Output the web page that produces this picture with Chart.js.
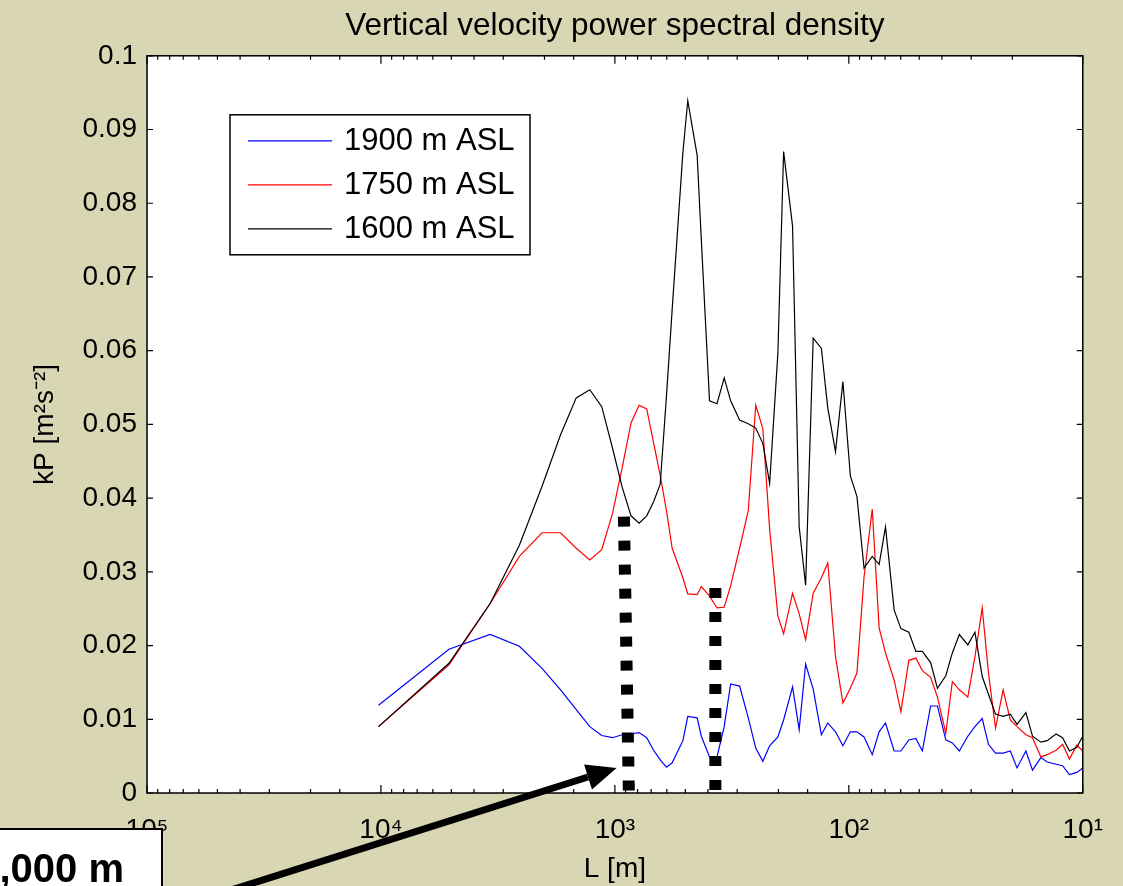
<!DOCTYPE html>
<html><head><meta charset="utf-8">
<script src="https://cdn.jsdelivr.net/npm/chart.js@4.4.1/dist/chart.umd.min.js"></script>
<style>html,body{margin:0;padding:0;background:#d9d6b4;overflow:hidden}canvas{display:block}</style>
</head><body>
<canvas id="c" width="1123" height="886"></canvas>
<script>
// Wavelength L [m] of each spectral estimate (shared by all three series)
const wavelengthM = [10240,5120,3413,2560,2048,1707,1463,1280,1138,1024,
  931,853,788,731,683,640,602,569,512,488,
  445,427,394,366,341,320,293,269,250,233,
  218,201,190,174,163,153,142,131,123,114,
  106,98.5,92.3,86.1,79.4,74.2,69.7,64,59.9,55.4,
  51.7,48.5,44.7,41.8,38.5,36.1,33.7,31.0,28.9,26.9,
  25.3,23.6,21.9,20.4,19.1,17.5,16.4,15.1,14.2,13.0,
  12.2,11.4,10.6,10];

// kP [m^2 s^-2]
const psd1900 = [0.0119,0.0195,0.0215,0.0199,0.0169,0.0140,0.0113,0.0090,0.0078,0.0075,
  0.0079,0.0080,0.0082,0.0075,0.0058,0.0045,0.0035,0.0041,0.0071,0.0104,
  0.0102,0.0077,0.0049,0.0049,0.0090,0.0148,0.0145,0.0102,0.0061,0.0043,
  0.0064,0.0076,0.0099,0.0144,0.0086,0.0175,0.0141,0.0079,0.0095,0.0083,
  0.0064,0.0083,0.0083,0.0076,0.0052,0.0083,0.0095,0.0057,0.0057,0.0072,
  0.0074,0.0057,0.0118,0.0118,0.0072,0.0068,0.0057,0.0077,0.0090,0.0101,
  0.0066,0.0054,0.0054,0.0057,0.0034,0.0057,0.0031,0.0048,0.0042,0.0039,
  0.0037,0.0025,0.0028,0.0034];

const psd1750 = [0.0090,0.0174,0.0257,0.0321,0.0353,0.0353,0.0332,0.0316,0.0330,0.0379,
  0.0441,0.0502,0.0526,0.0521,0.0475,0.0431,0.0383,0.0332,0.0292,0.0270,
  0.0269,0.0280,0.0267,0.0251,0.0252,0.0281,0.0332,0.0383,0.0526,0.0494,
  0.0358,0.0240,0.0216,0.0271,0.0243,0.0208,0.0271,0.0292,0.0312,0.0185,
  0.0122,0.0142,0.0163,0.0293,0.0385,0.0224,0.0190,0.0153,0.0110,0.0180,
  0.0183,0.0166,0.0157,0.0130,0.0081,0.0151,0.0140,0.0130,0.0185,0.0251,
  0.0163,0.0088,0.0140,0.0099,0.0090,0.0079,0.0075,0.0049,0.0052,0.0058,
  0.0066,0.0046,0.0065,0.0057];

const psd1600 = [0.0090,0.0176,0.0257,0.0336,0.0416,0.0486,0.0536,0.0547,0.0524,0.0468,
  0.0415,0.0376,0.0366,0.0376,0.0395,0.0419,0.0538,0.0656,0.0869,0.0939,
  0.0865,0.0750,0.0532,0.0528,0.0563,0.0532,0.0506,0.0501,0.0495,0.0474,
  0.0420,0.0597,0.0870,0.0769,0.0361,0.0282,0.0617,0.0603,0.0522,0.0463,
  0.0558,0.0430,0.0402,0.0305,0.0321,0.0310,0.0361,0.0248,0.0223,0.0218,
  0.0192,0.0192,0.0177,0.0142,0.0159,0.0190,0.0215,0.0201,0.0218,0.0158,
  0.0134,0.0107,0.0104,0.0107,0.0093,0.0109,0.0077,0.0069,0.0071,0.0080,
  0.0075,0.0057,0.0062,0.0077];

const seriesLabels = ['1900 m ASL', '1750 m ASL', '1600 m ASL'];
const xTickLabels = {100000: '10\u2075', 10000: '10\u2074', 1000: '10\u00B3', 100: '10\u00B2', 10: '10\u00B9'};
const yTickStep = 0.01;
const titleText = 'Vertical velocity power spectral density';
const xTitle = 'L [m]';
const yTitle = 'kP [m\u00B2s\u207B\u00B2]';
const annotationText = '1,000 m';
// dotted marker lines: [L, kP] of top and bottom ends
const markerLines = [
  {top: [915, 0.0375], bottom: [871, 0]},
  {top: [372, 0.0278], bottom: [372, 0]}
];
// arrow tail / tip in data units
const arrowTail = [59360, -0.0145];
const arrowTip = [983, 0.0034];

const FONT = "'Liberation Sans', Arial, Helvetica, sans-serif";
const BG = '#d9d6b4';
const colors = ['#0000ff', '#ff0000', '#000000'];

function mk(vals) { return wavelengthM.map((x, i) => ({x: x, y: vals[i]})); }

const deco = {
  id: 'deco',
  beforeDraw(chart) {
    const {ctx, chartArea: a} = chart;
    ctx.save();
    ctx.fillStyle = BG; ctx.fillRect(0, 0, chart.width, chart.height);
    ctx.fillStyle = '#ffffff'; ctx.fillRect(a.left, a.top, a.right - a.left, a.bottom - a.top);
    ctx.restore();
  },
  afterDatasetsDraw(chart) {
    const {ctx, chartArea: a, scales} = chart;
    const xs = scales.x, ys = scales.y;
    ctx.save();
    // frame
    ctx.strokeStyle = '#000'; ctx.lineWidth = 1.5;
    ctx.strokeRect(a.left, a.top, a.right - a.left, a.bottom - a.top);
    // ticks (inside)
    ctx.lineWidth = 1.2;
    ctx.beginPath();
    xs.ticks.forEach(t => {
      const p = xs.getPixelForValue(t.value);
      const e = Math.log10(t.value);
      const len = Math.abs(e - Math.round(e)) < 1e-6 ? 8 : 4;
      ctx.moveTo(p, a.bottom); ctx.lineTo(p, a.bottom - len);
      ctx.moveTo(p, a.top); ctx.lineTo(p, a.top + len);
    });
    ys.ticks.forEach(t => {
      const p = ys.getPixelForValue(t.value);
      ctx.moveTo(a.left, p); ctx.lineTo(a.left + 6, p);
      ctx.moveTo(a.right, p); ctx.lineTo(a.right - 6, p);
    });
    ctx.stroke();
    // dotted marker lines
    ctx.setLineDash([10, 14]);
    ctx.lineWidth = 12; ctx.lineCap = 'butt';
    markerLines.forEach(m => {
      ctx.beginPath();
      ctx.moveTo(xs.getPixelForValue(m.top[0]), ys.getPixelForValue(m.top[1]));
      ctx.lineTo(xs.getPixelForValue(m.bottom[0]), ys.getPixelForValue(m.bottom[1]) + 2);
      ctx.stroke();
    });
    ctx.setLineDash([]);
    // legend box
    const lx = a.left + 83, ly = a.top + 59, lw = 300, lh = 140;
    ctx.fillStyle = '#fff'; ctx.fillRect(lx, ly, lw, lh);
    ctx.lineWidth = 1.5; ctx.strokeStyle = '#000'; ctx.strokeRect(lx, ly, lw, lh);
    ctx.font = '31px ' + FONT; ctx.textBaseline = 'middle'; ctx.textAlign = 'left';
    chart.data.datasets.forEach((ds, i) => {
      const yy = ly + 26 + i * 44;
      ctx.strokeStyle = ds.borderColor; ctx.lineWidth = 1.3;
      ctx.beginPath(); ctx.moveTo(lx + 18, yy); ctx.lineTo(lx + 102, yy); ctx.stroke();
      ctx.fillStyle = '#000'; ctx.fillText(ds.label, lx + 114, yy + 1);
    });
    ctx.restore();
  },
  afterDraw(chart) {
    const {ctx, scales} = chart;
    const xs = scales.x, ys = scales.y;
    ctx.save();
    // annotation box
    ctx.fillStyle = '#fff'; ctx.fillRect(-10, 829, 172, 80);
    ctx.strokeStyle = '#000'; ctx.lineWidth = 2; ctx.strokeRect(-10, 829, 172, 80);
    ctx.fillStyle = '#000'; ctx.font = 'bold 40px ' + FONT;
    ctx.textAlign = 'right'; ctx.textBaseline = 'alphabetic';
    ctx.fillText(annotationText, 124, 882);
    // arrow
    const x0 = xs.getPixelForValue(arrowTail[0]), y0 = ys.getPixelForValue(arrowTail[1]);
    const x1 = xs.getPixelForValue(arrowTip[0]), y1 = ys.getPixelForValue(arrowTip[1]);
    const ang = Math.atan2(y1 - y0, x1 - x0);
    const hl = 30, hw = 13;
    const bx = x1 - hl * Math.cos(ang), by = y1 - hl * Math.sin(ang);
    ctx.strokeStyle = '#000'; ctx.lineWidth = 7;
    ctx.beginPath(); ctx.moveTo(x0, y0); ctx.lineTo(bx, by); ctx.stroke();
    ctx.beginPath();
    ctx.moveTo(x1, y1);
    ctx.lineTo(bx + hw * Math.sin(ang), by - hw * Math.cos(ang));
    ctx.lineTo(bx - hw * Math.sin(ang), by + hw * Math.cos(ang));
    ctx.closePath(); ctx.fill();
    ctx.restore();
  }
};

new Chart(document.getElementById('c'), {
  type: 'line',
  data: {
    datasets: [
      {label: seriesLabels[0], data: mk(psd1900), borderColor: colors[0], borderWidth: 1.2, pointRadius: 0, tension: 0, fill: false, order: 2},
      {label: seriesLabels[1], data: mk(psd1750), borderColor: colors[1], borderWidth: 1.2, pointRadius: 0, tension: 0, fill: false, order: 1},
      {label: seriesLabels[2], data: mk(psd1600), borderColor: colors[2], borderWidth: 1.2, pointRadius: 0, tension: 0, fill: false, order: 0}
    ]
  },
  options: {
    responsive: false,
    devicePixelRatio: 1,
    animation: false,
    events: [],
    layout: {padding: {left: 0, right: 40, top: 0, bottom: 0}},
    plugins: {
      legend: {display: false},
      tooltip: {enabled: false},
      title: {display: true, text: titleText, fullSize: false, color: '#000',
        font: {family: FONT, size: 31.5, weight: 'normal'}, padding: {top: 7, bottom: 11}}
    },
    scales: {
      x: {
        type: 'logarithmic', reverse: true, min: 10, max: 100000,
        grid: {display: false, drawTicks: false}, border: {display: false},
        ticks: {autoSkip: false, maxRotation: 0, minRotation: 0, padding: 20, color: '#000',
          font: {family: FONT, size: 28},
          callback: (v) => xTickLabels[Math.round(v)] !== undefined && Math.abs(Math.log10(v) - Math.round(Math.log10(v))) < 1e-6 ? xTickLabels[Math.round(v)] : ''},
        title: {display: true, text: xTitle, color: '#000', font: {family: FONT, size: 28}, padding: {top: 0, bottom: 0}},
        afterFit: (s) => { s.height = 93; }
      },
      y: {
        type: 'linear', min: 0, max: 0.1,
        grid: {display: false, drawTicks: false}, border: {display: false},
        ticks: {stepSize: yTickStep, padding: 10, color: '#000', font: {family: FONT, size: 28},
          callback: (v) => (+v).toFixed(2).replace(/\.?0+$/, '')},
        title: {display: true, text: yTitle, color: '#000', font: {family: FONT, size: 28}, padding: {top: 28, bottom: 0}},
        afterFit: (s) => { s.width = 147; }
      }
    }
  },
  plugins: [deco]
});
</script>
</body></html>
